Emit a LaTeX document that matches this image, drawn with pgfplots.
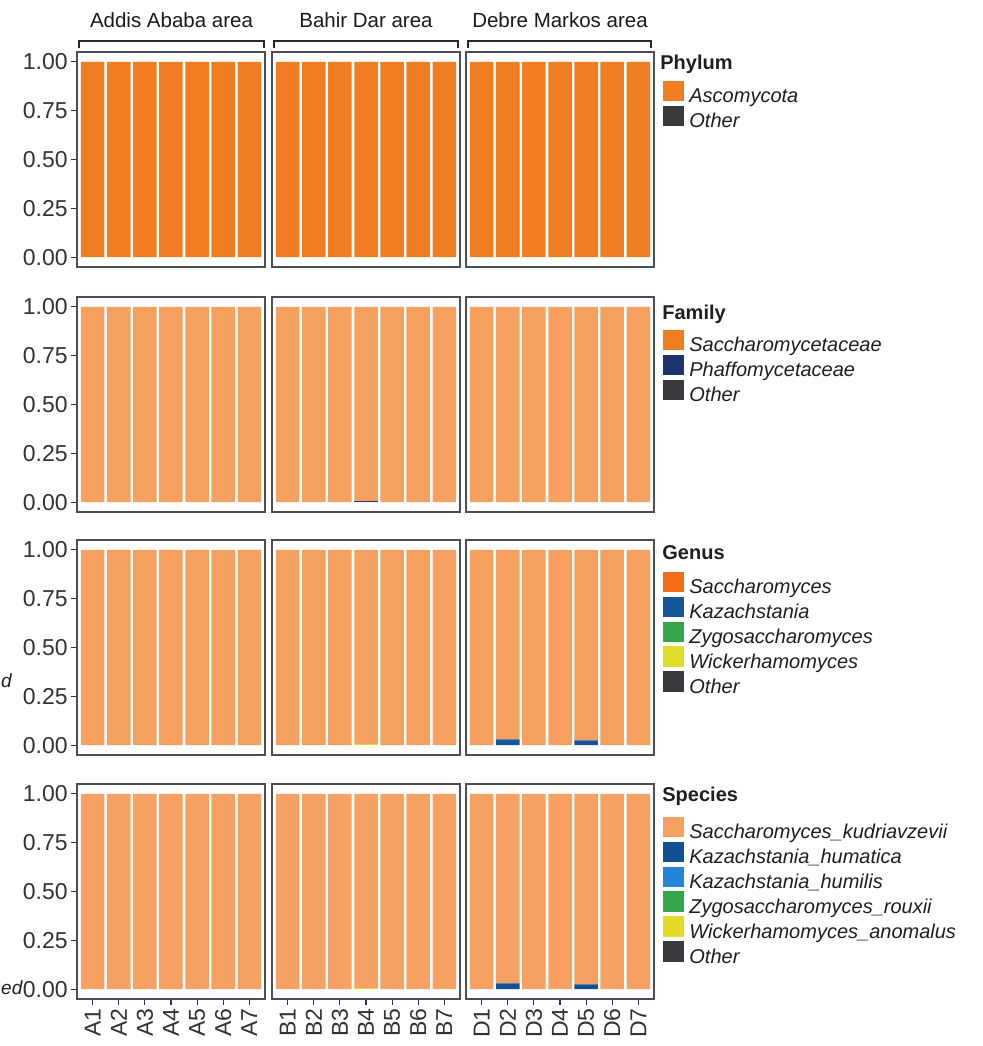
\documentclass[border=0pt]{standalone}
\usepackage{pgfplots}
\pgfplotsset{compat=1.18}
\usepackage{pgfplotstable}
\usepackage{fontspec}
\setmainfont{Liberation Sans}

% colours
\definecolor{framec}{RGB}{72,78,90}
\definecolor{tickc}{RGB}{50,50,50}
\definecolor{legc}{RGB}{30,30,30}
\definecolor{otherc}{RGB}{58,58,62}
\definecolor{darkor}{RGB}{240,125,32}
\definecolor{lightor}{RGB}{246,160,95}
\definecolor{famSac}{RGB}{240,125,32}
\definecolor{famPha}{RGB}{28,52,108}
\definecolor{genSac}{RGB}{240,108,22}
\definecolor{genKaz}{RGB}{22,84,156}
\definecolor{genZyg}{RGB}{52,168,72}
\definecolor{genWic}{RGB}{222,222,44}
\definecolor{spSk}{RGB}{246,160,100}
\definecolor{spKhm}{RGB}{18,80,150}
\definecolor{spKhl}{RGB}{36,134,212}
\definecolor{spZr}{RGB}{52,168,72}
\definecolor{spWa}{RGB}{228,218,40}

% relative abundance per sample; pos 1-7 = A1-A7, 11-17 = B1-B7, 21-27 = D1-D7
\pgfplotstableread{
pos Asco Other
1 1 0
2 1 0
3 1 0
4 1 0
5 1 0
6 1 0
7 1 0
11 1 0
12 1 0
13 1 0
14 1 0
15 1 0
16 1 0
17 1 0
21 1 0
22 1 0
23 1 0
24 1 0
25 1 0
26 1 0
27 1 0
}\phylum

\pgfplotstableread{
pos Sacch Phaff Other
1 1 0 0
2 1 0 0
3 1 0 0
4 1 0 0
5 1 0 0
6 1 0 0
7 1 0 0
11 1 0 0
12 1 0 0
13 1 0 0
14 0.994 0.006 0
15 1 0 0
16 1 0 0
17 1 0 0
21 1 0 0
22 1 0 0
23 1 0 0
24 1 0 0
25 1 0 0
26 1 0 0
27 1 0 0
}\family

\pgfplotstableread{
pos Sacch Kaz Zygo Wick Other
1 1 0 0 0 0
2 1 0 0 0 0
3 1 0 0 0 0
4 1 0 0 0 0
5 1 0 0 0 0
6 1 0 0 0 0
7 1 0 0 0 0
11 1 0 0 0 0
12 1 0 0 0 0
13 1 0 0 0 0
14 0.996 0 0 0.004 0
15 1 0 0 0 0
16 1 0 0 0 0
17 1 0 0 0 0
21 1 0 0 0 0
22 0.97 0.03 0 0 0
23 1 0 0 0 0
24 1 0 0 0 0
25 0.975 0.025 0 0 0
26 1 0 0 0 0
27 1 0 0 0 0
}\genus

\pgfplotstableread{
pos Skud Khuma Khumi Zrou Wano Other
1 1 0 0 0 0 0
2 1 0 0 0 0 0
3 1 0 0 0 0 0
4 1 0 0 0 0 0
5 1 0 0 0 0 0
6 1 0 0 0 0 0
7 1 0 0 0 0 0
11 1 0 0 0 0 0
12 1 0 0 0 0 0
13 1 0 0 0 0 0
14 0.996 0 0 0 0.004 0
15 1 0 0 0 0 0
16 1 0 0 0 0 0
17 1 0 0 0 0 0
21 1 0 0 0 0 0
22 0.97 0.03 0 0 0 0
23 1 0 0 0 0 0
24 1 0 0 0 0 0
25 0.975 0.025 0 0 0 0
26 1 0 0 0 0 0
27 1 0 0 0 0 0
}\species

\pgfplotsset{
  panel/.style={anchor=south west, scale only axis, width=94pt, height=107.5pt,
    ymin=-0.05, ymax=1.05, ybar stacked, bar width=0.9,
    xtick=\empty, ytick=\empty,
    axis line style={draw=framec, line width=0.8pt},
    tick align=outside, major tick length=3pt,
    tick style={draw=tickc, line width=0.6pt},
    ticklabel style={font=\fontsize{11.5}{13}\selectfont, text=tickc},
    every axis plot/.append style={draw=none}},
  colA/.style={xmin=0.4, xmax=7.6},
  colB/.style={xmin=10.4, xmax=17.6},
  colC/.style={xmin=20.4, xmax=27.6},
  yleft/.style={ytick={0,0.25,0.5,0.75,1}, yticklabels={0.00,0.25,0.50,0.75,1.00},
    ytick pos=left, yticklabel style={inner sep=1.5pt}},
  xbot/.style={xtick pos=bottom, xticklabel style={rotate=90, anchor=east, inner sep=1.5pt}},
  xlabA/.style={xbot, xtick={1,...,7}, xticklabels={A1,A2,A3,A4,A5,A6,A7}},
  xlabB/.style={xbot, xtick={11,...,17}, xticklabels={B1,B2,B3,B4,B5,B6,B7}},
  xlabC/.style={xbot, xtick={21,...,27}, xticklabels={D1,D2,D3,D4,D5,D6,D7}},
  legendbox/.style={legend cell align=left,
    legend style={at={(1,1)}, anchor=north west, xshift=4.5pt, yshift=#1,
      draw=none, fill=none, inner sep=0pt, row sep=-2.1pt, column sep=2.5pt,
      font=\fontsize{10}{12}\selectfont\itshape, text=legc,
      nodes={inner sep=0pt, text height=9.25pt, text depth=3.5pt}}},
  sqkey/.style={legend image code/.code={\fill[##1] (0pt,-2pt) rectangle (10.5pt,8.2pt);}},
}

\newcommand\phylumplots{%
  \addplot[fill=otherc] table[x=pos,y=Other]{\phylum};
  \addplot[fill=darkor] table[x=pos,y=Asco]{\phylum};
}
\newcommand\familyplots{%
  \addplot[fill=otherc] table[x=pos,y=Other]{\family};
  \addplot[fill=famPha] table[x=pos,y=Phaff]{\family};
  \addplot[fill=lightor] table[x=pos,y=Sacch]{\family};
}
\newcommand\genusplots{%
  \addplot[fill=otherc] table[x=pos,y=Other]{\genus};
  \addplot[fill=genWic] table[x=pos,y=Wick]{\genus};
  \addplot[fill=genZyg] table[x=pos,y=Zygo]{\genus};
  \addplot[fill=genKaz] table[x=pos,y=Kaz]{\genus};
  \addplot[fill=lightor] table[x=pos,y=Sacch]{\genus};
}
\newcommand\speciesplots{%
  \addplot[fill=otherc] table[x=pos,y=Other]{\species};
  \addplot[fill=spWa] table[x=pos,y=Wano]{\species};
  \addplot[fill=spZr] table[x=pos,y=Zrou]{\species};
  \addplot[fill=spKhl] table[x=pos,y=Khumi]{\species};
  \addplot[fill=spKhm] table[x=pos,y=Khuma]{\species};
  \addplot[fill=spSk] table[x=pos,y=Skud]{\species};
}

\begin{document}
\begin{tikzpicture}
\useasboundingbox (0,0) rectangle (491.5pt,523pt);

% area strips with brackets
\begin{scope}[font=\fontsize{10.25}{12}\selectfont, text={rgb,255:red,26;green,26;blue,26}]
\node at (85.75pt,513pt) {Addis Ababa area};
\node at (183pt,513pt) {Bahir Dar area};
\node at (280pt,513pt) {Debre Markos area};
\end{scope}
\begin{scope}[draw={rgb,255:red,40;green,40;blue,40}, line width=0.8pt]
\draw (39.5pt,499pt) -- (39.5pt,502.5pt) -- (132pt,502.5pt) -- (132pt,499pt);
\draw (137pt,499pt) -- (137pt,502.5pt) -- (229pt,502.5pt) -- (229pt,499pt);
\draw (234pt,499pt) -- (234pt,502.5pt) -- (325.5pt,502.5pt) -- (325.5pt,499pt);
\end{scope}

% row 1: phylum
\begin{axis}[panel, colA, yleft, at={(38.5pt,389.5pt)}]
\phylumplots
\end{axis}
\begin{axis}[panel, colB, at={(136pt,389.5pt)}]
\phylumplots
\end{axis}
\begin{axis}[panel, colC, at={(233pt,389.5pt)}, legendbox=-14.1pt]
\addlegendimage{sqkey, fill=darkor}\addlegendentry{Ascomycota}
\addlegendimage{sqkey, fill=otherc}\addlegendentry{Other}
\phylumplots
\end{axis}

% row 2: family
\begin{axis}[panel, colA, yleft, at={(38.5pt,267pt)}]
\familyplots
\end{axis}
\begin{axis}[panel, colB, at={(136pt,267pt)}]
\familyplots
\end{axis}
\begin{axis}[panel, colC, at={(233pt,267pt)}, legendbox=-16.1pt]
\addlegendimage{sqkey, fill=famSac}\addlegendentry{Saccharomycetaceae}
\addlegendimage{sqkey, fill=famPha}\addlegendentry{Phaffomycetaceae}
\addlegendimage{sqkey, fill=otherc}\addlegendentry{Other}
\familyplots
\end{axis}

% row 3: genus
\begin{axis}[panel, colA, yleft, at={(38.5pt,145.5pt)}]
\genusplots
\end{axis}
\begin{axis}[panel, colB, at={(136pt,145.5pt)}]
\genusplots
\end{axis}
\begin{axis}[panel, colC, at={(233pt,145.5pt)}, legendbox=-15.6pt]
\addlegendimage{sqkey, fill=genSac}\addlegendentry{Saccharomyces}
\addlegendimage{sqkey, fill=genKaz}\addlegendentry{Kazachstania}
\addlegendimage{sqkey, fill=genZyg}\addlegendentry{Zygosaccharomyces}
\addlegendimage{sqkey, fill=genWic}\addlegendentry{Wickerhamomyces}
\addlegendimage{sqkey, fill=otherc}\addlegendentry{Other}
\genusplots
\end{axis}

% row 4: species
\begin{axis}[panel, colA, yleft, xlabA, at={(38.5pt,23.5pt)}]
\speciesplots
\end{axis}
\begin{axis}[panel, colB, xlabB, at={(136pt,23.5pt)}]
\speciesplots
\end{axis}
\begin{axis}[panel, colC, xlabC, at={(233pt,23.5pt)}, legendbox=-16.1pt]
\addlegendimage{sqkey, fill=spSk}\addlegendentry{Saccharomyces\_kudriavzevii}
\addlegendimage{sqkey, fill=spKhm}\addlegendentry{Kazachstania\_humatica}
\addlegendimage{sqkey, fill=spKhl}\addlegendentry{Kazachstania\_humilis}
\addlegendimage{sqkey, fill=spZr}\addlegendentry{Zygosaccharomyces\_rouxii}
\addlegendimage{sqkey, fill=spWa}\addlegendentry{Wickerhamomyces\_anomalus}
\addlegendimage{sqkey, fill=otherc}\addlegendentry{Other}
\speciesplots
\end{axis}

% legend titles
\begin{scope}[font=\fontsize{10}{12}\selectfont\bfseries, text=legc]
\node[anchor=west, inner sep=0pt] at (330pt,491pt) {Phylum};
\node[anchor=west, inner sep=0pt] at (331pt,366pt) {Family};
\node[anchor=west, inner sep=0pt] at (331pt,246.5pt) {Genus};
\node[anchor=west, inner sep=0pt] at (331pt,125pt) {Species};
\end{scope}

% text fragments at the left margin
\begin{scope}[font=\fontsize{9.5}{11}\selectfont\itshape, text=legc]
\node[anchor=base west, inner sep=0pt] at (0.4pt,179pt) {d};
\node[anchor=base west, inner sep=0pt] at (0.4pt,25.5pt) {ed};
\end{scope}
\end{tikzpicture}
\end{document}
